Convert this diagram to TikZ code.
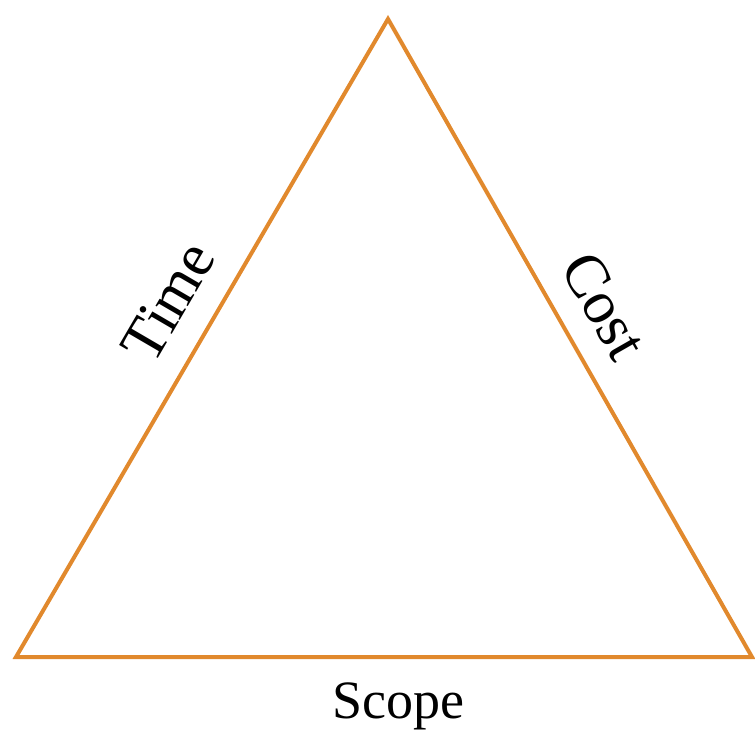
\documentclass[tikz,border=0pt]{standalone}
\usepackage{fontspec}
\setmainfont{Liberation Serif}
\usepackage{xcolor}
\usepackage{tikz}
\usetikzlibrary{positioning}

\definecolor{triorange}{RGB}{225,137,45}

\begin{document}
\begin{tikzpicture}[
  x=1pt, y=-1pt,
  every node/.style={font=\fontsize{54}{60}\selectfont, inner sep=3pt},
  slant/.style={sloped, font=\fontsize{61}{66}\selectfont},
  side/.style={draw=triorange, line width=4pt, line join=miter},
]
\useasboundingbox (0,0) rectangle (755,735);
\coordinate (top) at (388,19);
\coordinate (left) at (16,657);
\coordinate (right) at (752,657);
\draw[side] (left) -- node[slant, pos=0.52, above=22pt] (time) {Time} (top)
  -- node[slant, pos=0.485, above=20pt] (cost) {Cost} (right)
  -- node[pos=0.48, below=21pt] (scope) {Scope} cycle;
\end{tikzpicture}
\end{document}
